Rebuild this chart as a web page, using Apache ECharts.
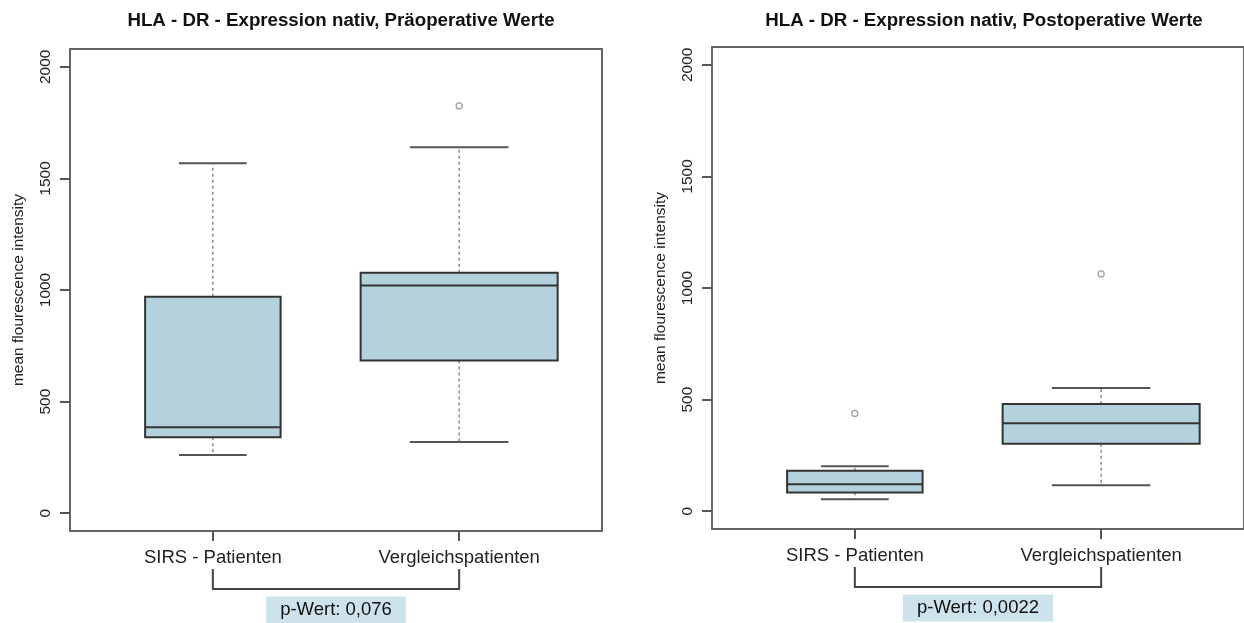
<!DOCTYPE html>
<html>
<head>
<meta charset="utf-8">
<script src="https://cdn.jsdelivr.net/npm/echarts@6/dist/echarts.min.js"></script>
<style>
html,body{margin:0;padding:0;background:#fff;}
#c{width:1244px;height:623px;}
</style>
</head>
<body>
<div id="c"></div>
<script>
// ---- data ----
const categories = ['SIRS - Patienten', 'Vergleichspatienten'];
const titles = ['HLA - DR - Expression nativ, Präoperative Werte', 'HLA - DR - Expression nativ, Postoperative Werte'];
// [low whisker, Q1, median, Q3, high whisker]
const preBoxes = [[261, 340, 385, 970, 1568], [319, 684, 1020, 1077, 1640]];
const preOutliers = [[], [1825]];
const postBoxes = [[53, 84, 120, 181, 201], [116, 302, 394, 480, 552]];
const postOutliers = [[438], [1063]];
const yTicks = [0, 500, 1000, 1500, 2000];
const pValues = ['p-Wert: 0,076', 'p-Wert: 0,0022'];
const yAxisTitle = 'mean flourescence intensity';

// ---- styling / layout ----
const FONT = 'Liberation Sans, Arial, Helvetica, sans-serif';
const relBoxWidth = [0.55, 0.8]; // varwidth boxes (axis units)
const BOX_FILL = '#b4d1de';
const DARK = '#333';

const panels = [
  {boxes: preBoxes, outliers: preOutliers, p: pValues[0], title: titles[0], left: 70, top: 49, width: 532, height: 482},
  {boxes: postBoxes, outliers: postOutliers, p: pValues[1], title: titles[1], left: 712, top: 47, width: 534, height: 482}
];

const option = {
  animation: false,
  backgroundColor: '#fff',
  title: [], grid: [], xAxis: [], yAxis: [], series: []
};

panels.forEach((pn, i) => {
  option.title.push({
    text: pn.title,
    left: pn.left + pn.width / 2, top: 6, textAlign: 'center',
    textStyle: {fontFamily: FONT, fontSize: 18.7, fontWeight: 'bold', color: '#111'}
  });
  option.grid.push({
    left: pn.left, top: pn.top, width: pn.width, height: pn.height,
    show: true, borderColor: '#666', borderWidth: 2, backgroundColor: 'transparent'
  });
  option.xAxis.push({
    type: 'value', gridIndex: i, min: 0.42, max: 2.58,
    axisLine: {show: false, onZero: false}, splitLine: {show: false},
    axisTick: {show: true, inside: false, customValues: [1, 2], length: 10, lineStyle: {color: '#555', width: 2}},
    axisLabel: {
      customValues: [1, 2], margin: 17,
      formatter: v => categories[Math.round(v) - 1] || '',
      fontFamily: FONT, fontSize: 18.5, color: '#222'
    }
  });
  option.yAxis.push({
    type: 'value', gridIndex: i, min: -80, max: 2080,
    name: yAxisTitle, nameLocation: 'middle', nameRotate: 90, nameGap: 43,
    nameTextStyle: {fontFamily: FONT, fontSize: 15.5, color: '#222'},
    axisLine: {show: false, onZero: false}, splitLine: {show: false},
    axisTick: {show: true, inside: false, customValues: yTicks, length: 10, lineStyle: {color: '#555', width: 2}},
    axisLabel: {customValues: yTicks, rotate: 90, margin: 16, formatter: v => String(v),
      fontFamily: FONT, fontSize: 15.5, color: '#222'}
  });
  // boxes
  option.series.push({
    type: 'custom', xAxisIndex: i, yAxisIndex: i,
    data: pn.boxes.map((b, k) => [k + 1].concat(b)),
    renderItem: (params, api) => {
      const k = params.dataIndex;
      const x = api.value(0);
      const lo = api.coord([x, api.value(1)]);
      const q1 = api.coord([x, api.value(2)]);
      const md = api.coord([x, api.value(3)]);
      const q3 = api.coord([x, api.value(4)]);
      const hi = api.coord([x, api.value(5)]);
      const w = api.size([relBoxWidth[k], 0])[0];
      const cx = lo[0];
      const dash = {stroke: '#8a8a8a', lineWidth: 1.5, lineDash: [3, 3]};
      const cap = {stroke: '#555', lineWidth: 2};
      return {type: 'group', children: [
        {type: 'line', shape: {x1: cx, y1: q3[1], x2: cx, y2: hi[1]}, style: dash},
        {type: 'line', shape: {x1: cx, y1: q1[1], x2: cx, y2: lo[1]}, style: dash},
        {type: 'line', shape: {x1: cx - w / 4, y1: hi[1], x2: cx + w / 4, y2: hi[1]}, style: cap},
        {type: 'line', shape: {x1: cx - w / 4, y1: lo[1], x2: cx + w / 4, y2: lo[1]}, style: cap},
        {type: 'rect', shape: {x: cx - w / 2, y: q3[1], width: w, height: q1[1] - q3[1]},
          style: {fill: BOX_FILL, stroke: DARK, lineWidth: 2}},
        {type: 'line', shape: {x1: cx - w / 2, y1: md[1], x2: cx + w / 2, y2: md[1]}, style: {stroke: DARK, lineWidth: 2}}
      ]};
    }
  });
  // outliers
  const outPts = [];
  pn.outliers.forEach((arr, k) => arr.forEach(v => outPts.push([k + 1, v])));
  option.series.push({
    type: 'scatter', xAxisIndex: i, yAxisIndex: i, data: outPts,
    symbol: 'circle', symbolSize: 6,
    itemStyle: {color: '#fff', borderColor: '#8a8a8a', borderWidth: 1.3}
  });
  // bracket + p-value
  option.series.push({
    type: 'custom', xAxisIndex: i, yAxisIndex: i, clip: false, silent: true,
    data: [[1.5]],
    renderItem: (params, api) => {
      const cs = params.coordSys;
      const bottom = cs.y + cs.height;
      const x1 = api.coord([1, 0])[0], x2 = api.coord([2, 0])[0];
      const xm = api.coord([1.5, 0])[0];
      const yA = bottom + 38, yB = bottom + 58;
      const st = {stroke: '#444', lineWidth: 2, fill: null};
      return {type: 'group', children: [
        {type: 'polyline', shape: {points: [[x1, yA], [x1, yB], [x2, yB], [x2, yA]]}, style: st},
        {type: 'text', style: {
          text: pn.p, x: xm, y: bottom + 79, align: 'center', verticalAlign: 'middle',
          font: '18.5px ' + FONT, fill: '#111', backgroundColor: '#cde2eb', padding: [4, 14, 4, 14]
        }}
      ]};
    }
  });
});

const chart = echarts.init(document.getElementById('c'));
chart.setOption(option);
</script>
</body>
</html>
